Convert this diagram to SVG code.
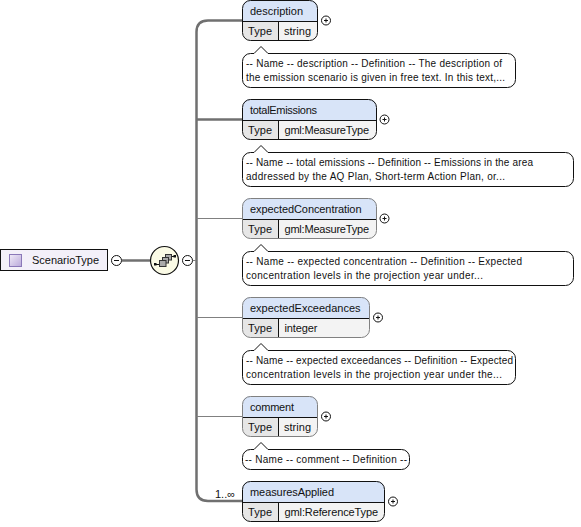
<svg xmlns="http://www.w3.org/2000/svg" width="581" height="527" viewBox="0 0 581 527">
<style>
text{font-family:"Liberation Sans",Arial,sans-serif;font-size:11px;fill:#111}
.hd{fill:#d8e4f8;stroke:none}
.tc{fill:#e6e6e6;stroke:none}
.vc{fill:#f3f3f3;stroke:none}
.bx{fill:none;stroke:#111;stroke-width:1}
.op{fill:none;stroke:#808080;stroke-width:1}
.ln{fill:none;stroke:#111;stroke-width:1}
.co{fill:#fff;stroke:#111;stroke-width:1}
.thick{fill:none;stroke:#707070;stroke-width:2.500}
.thin{fill:none;stroke:#808080;stroke-width:1}
.sg{fill:#fff;stroke:#111;stroke-width:1}
.sy{fill:none;stroke:#111;stroke-width:1}
.nt{font-size:10px}
</style>
<defs>
<g id="plus"><circle class="sg" cx="0" cy="0" r="4.500"/><path class="sy" d="M-2 0H2M0-2V2"/></g>
<g id="minus"><circle class="sg" cx="0" cy="0" r="5"/><path class="sy" d="M-2.500 0H2.500"/></g>
<linearGradient id="sq" x1="0" y1="0" x2="1" y2="1"><stop offset="0" stop-color="#f1ecf8"/><stop offset="1" stop-color="#b9a8da"/></linearGradient>
</defs>
<g id="connectors">
<path class="thick" d="M242 20.500H208Q196.500 20.500 196.500 32V489.500Q196.500 501 208 501H242"/>
<path class="thick" d="M196.500 119.500H242"/>
<path class="thin" d="M196.500 218.500H242M196.500 317.500H242M196.500 416.500H242"/>
<path class="thick" d="M122 260.500H150"/>
<path class="thin" d="M193 260.500H196"/>
<text x="215" y="498" textLength="20" lengthAdjust="spacing">1..∞</text>
</g>
<g id="ScenarioType">
<rect x="0.500" y="249.500" width="107" height="21" fill="#f3f0f9" stroke="#111"/>
<rect x="9.500" y="254.500" width="12" height="12" fill="url(#sq)" stroke="#8a78b8"/>
<text x="32" y="264" textLength="67">ScenarioType</text>
<use href="#minus" x="116.500" y="260.500"/>
</g>
<g id="sequence">
<circle cx="164.500" cy="260.500" r="14" fill="#fbfbe6" stroke="#111" stroke-width="1.200"/>
<path class="sy" d="M155 264.500H159.500M170.500 256.500H175"/>
<rect x="165.500" y="254.500" width="6" height="5.500" fill="#aaa" stroke="#333"/>
<rect x="162.500" y="257.500" width="6" height="5.500" fill="#aaa" stroke="#333"/>
<rect x="159.500" y="260.500" width="6.500" height="6" fill="#aaa" stroke="#333"/>
<rect x="154" y="263" width="2.500" height="2.500" fill="#111"/>
<rect x="173.500" y="255" width="2.500" height="2.500" fill="#111"/>
<use href="#minus" x="187.500" y="260.500"/>
</g>
<g id="description">
<path class="hd" d="M242.500 21V8a8 8 0 0 1 8-8H309.500a8 8 0 0 1 8 8V21Z"/>
<path class="tc" d="M242.500 21H278V40.500H250.500a8 8 0 0 1-8-8Z"/>
<path class="vc" d="M278 21H317.500V32.500a8 8 0 0 1-8 8H278Z"/>
<rect class="bx" x="242.500" y="0.500" width="75" height="40" rx="8"/>
<path class="ln" d="M242.500 21.500H317.500M278.500 21.500V40.500"/>
<text x="250" y="15" textLength="53">description</text><text x="248" y="35" textLength="24">Type</text><text x="284" y="35" textLength="27">string</text>
<use href="#plus" x="326" y="20.500"/>
</g>
<g id="description-note">
<path class="co" d="M250.500 53.500H254L261 46.500L268 53.500H507.500a8 8 0 0 1 8 8V79.500a8 8 0 0 1-8 8H250.500a8 8 0 0 1-8-8V61.500a8 8 0 0 1 8-8Z"/>
<text class="nt" x="246" y="67" textLength="256">-- Name -- description -- Definition -- The description of</text>
<text class="nt" x="246" y="81" textLength="259">the emission scenario is given in free text. In this text,...</text>
</g>
<g id="totalEmissions">
<path class="hd" d="M242.500 120V107a8 8 0 0 1 8-8H368.500a8 8 0 0 1 8 8V120Z"/>
<path class="tc" d="M242.500 120H278V139.500H250.500a8 8 0 0 1-8-8Z"/>
<path class="vc" d="M278 120H376.500V131.500a8 8 0 0 1-8 8H278Z"/>
<rect class="bx" x="242.500" y="99.500" width="134" height="40" rx="8"/>
<path class="ln" d="M242.500 120.500H376.500M278.500 120.500V139.500"/>
<text x="250" y="114" textLength="67">totalEmissions</text><text x="248" y="134" textLength="24">Type</text><text x="284.500" y="134" textLength="84.500">gml:MeasureType</text>
<use href="#plus" x="384.500" y="119.500"/>
</g>
<g id="totalEmissions-note">
<path class="co" d="M250.500 152.500H254L261 145.500L268 152.500H565.500a8 8 0 0 1 8 8V178.500a8 8 0 0 1-8 8H250.500a8 8 0 0 1-8-8V160.500a8 8 0 0 1 8-8Z"/>
<text class="nt" x="246" y="166" textLength="287">-- Name -- total emissions -- Definition -- Emissions in the area</text>
<text class="nt" x="246" y="180" textLength="259">addressed by the AQ Plan, Short-term Action Plan, or...</text>
</g>
<g id="expectedConcentration">
<path class="hd" d="M242.500 219V206a8 8 0 0 1 8-8H368.500a8 8 0 0 1 8 8V219Z"/>
<path class="tc" d="M242.500 219H278V238.500H250.500a8 8 0 0 1-8-8Z"/>
<path class="vc" d="M278 219H376.500V230.500a8 8 0 0 1-8 8H278Z"/>
<path class="ln" d="M242.500 219.500H376.500M278.500 219.500V238.500"/>
<rect class="op" x="242.500" y="198.500" width="134" height="40" rx="8"/>
<text x="250" y="213" textLength="111.500">expectedConcentration</text><text x="248" y="233" textLength="24">Type</text><text x="284.500" y="233" textLength="84.500">gml:MeasureType</text>
<use href="#plus" x="384.500" y="218.500"/>
</g>
<g id="expectedConcentration-note">
<path class="co" d="M250.500 251.500H254L261 244.500L268 251.500H565.500a8 8 0 0 1 8 8V277.500a8 8 0 0 1-8 8H250.500a8 8 0 0 1-8-8V259.500a8 8 0 0 1 8-8Z"/>
<text class="nt" x="246" y="265" textLength="276">-- Name -- expected concentration -- Definition -- Expected</text>
<text class="nt" x="246" y="279" textLength="237">concentration levels in the projection year under...</text>
</g>
<g id="expectedExceedances">
<path class="hd" d="M242.500 318V305a8 8 0 0 1 8-8H361.500a8 8 0 0 1 8 8V318Z"/>
<path class="tc" d="M242.500 318H278V337.500H250.500a8 8 0 0 1-8-8Z"/>
<path class="vc" d="M278 318H369.500V329.500a8 8 0 0 1-8 8H278Z"/>
<path class="ln" d="M242.500 318.500H369.500M278.500 318.500V337.500"/>
<rect class="op" x="242.500" y="297.500" width="127" height="40" rx="8"/>
<text x="250" y="312" textLength="110.500">expectedExceedances</text><text x="248" y="332" textLength="24">Type</text><text x="284.500" y="332" textLength="33">integer</text>
<use href="#plus" x="378" y="317.500"/>
</g>
<g id="expectedExceedances-note">
<path class="co" d="M250.500 350.500H254L261 343.500L268 350.500H507.500a8 8 0 0 1 8 8V376.500a8 8 0 0 1-8 8H250.500a8 8 0 0 1-8-8V358.500a8 8 0 0 1 8-8Z"/>
<text class="nt" x="246" y="364" textLength="267">-- Name -- expected exceedances -- Definition -- Expected</text>
<text class="nt" x="246" y="378" textLength="256">concentration levels in the projection year under the...</text>
</g>
<g id="comment">
<path class="hd" d="M242.500 417V404a8 8 0 0 1 8-8H309.500a8 8 0 0 1 8 8V417Z"/>
<path class="tc" d="M242.500 417H278V436.500H250.500a8 8 0 0 1-8-8Z"/>
<path class="vc" d="M278 417H317.500V428.500a8 8 0 0 1-8 8H278Z"/>
<path class="ln" d="M242.500 417.500H317.500M278.500 417.500V436.500"/>
<rect class="op" x="242.500" y="396.500" width="75" height="40" rx="8"/>
<text x="250" y="411" textLength="44">comment</text><text x="248" y="431" textLength="24">Type</text><text x="284" y="431" textLength="27">string</text>
<use href="#plus" x="326" y="416.500"/>
</g>
<g id="comment-note">
<path class="co" d="M250.500 449.500H254L261 442.500L268 449.500H401.500a8 8 0 0 1 8 8V461.500a8 8 0 0 1-8 8H250.500a8 8 0 0 1-8-8V457.500a8 8 0 0 1 8-8Z"/>
<text class="nt" x="245" y="463" textLength="162">-- Name -- comment -- Definition --</text>
</g>
<g id="measuresApplied">
<path class="hd" d="M242.500 502V489a8 8 0 0 1 8-8H376.500a8 8 0 0 1 8 8V502Z"/>
<path class="tc" d="M242.500 502H278V521.500H250.500a8 8 0 0 1-8-8Z"/>
<path class="vc" d="M278 502H384.500V513.500a8 8 0 0 1-8 8H278Z"/>
<rect class="bx" x="242.500" y="481.500" width="142" height="40" rx="8"/>
<path class="ln" d="M242.500 502.500H384.500M278.500 502.500V521.500"/>
<text x="250" y="496" textLength="84">measuresApplied</text><text x="248" y="516" textLength="24">Type</text><text x="284.500" y="516" textLength="93.500">gml:ReferenceType</text>
<use href="#plus" x="393" y="501.500"/>
</g>
</svg>
